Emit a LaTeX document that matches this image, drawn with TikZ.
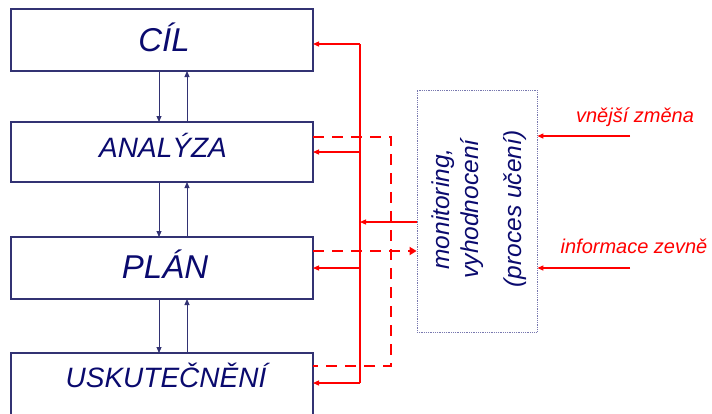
\documentclass[tikz,border=0pt]{standalone}
\usepackage{fontspec}
\setmainfont{Liberation Sans}
\usetikzlibrary{arrows.meta}
\definecolor{navy}{RGB}{10,10,110}
\definecolor{boxline}{RGB}{50,50,115}
\definecolor{dotline}{RGB}{120,120,175}
\begin{document}
\begin{tikzpicture}[x=1bp,y=-1bp,
  stagebox/.style={draw=boxline,line width=1.2bp,minimum width=302bp,minimum height=62bp,inner sep=0,outer sep=0},
  stagetext/.style={text=navy,anchor=base,inner sep=0},
  montext/.style={text=navy,rotate=90,inner sep=0,font=\itshape\fontsize{24.5bp}{28bp}\selectfont},
  redtext/.style={text=red,anchor=base,inner sep=0,font=\itshape\fontsize{20bp}{24bp}\selectfont},
  downflow/.style={draw=boxline,line width=0.9bp,-{Triangle[length=6bp,width=5bp]}},
  feedback/.style={draw=red,line width=1.2bp,-{Triangle[length=6bp,width=5bp]}},
  report/.style={draw=red,line width=2.5bp,dash pattern=on 11bp off 8bp}]
\useasboundingbox (0,0) rectangle (712,413);
\clip (0,0) rectangle (712,413);

% stage boxes
\node[stagebox] (cil) at (162,40) {};
\node[stagebox,minimum height=60bp] (analyza) at (162,152) {};
\node[stagebox] (plan) at (162,268) {};
\node[stagebox,minimum height=64bp] (usk) at (162,385) {};

\node[stagetext,font=\itshape\fontsize{33bp}{36bp}\selectfont] (cilt) at (164,51) {CÍL};
\node[stagetext,font=\itshape\fontsize{28bp}{32bp}\selectfont] (analyzat) at (163,157) {ANALÝZA};
\node[stagetext,font=\itshape\fontsize{33bp}{36bp}\selectfont] (plant) at (165,278) {PLÁN};
\node[stagetext,font=\itshape\fontsize{28bp}{32bp}\selectfont] (uskt) at (166,387) {USKUTEČNĚNÍ};

% vertical flow between stages
\coordinate (dn) at (159,0);
\coordinate (up) at (187,0);
\draw[downflow] (cil.south -| dn) -- (analyza.north -| dn);
\draw[downflow] (analyza.north -| up) -- (cil.south -| up);
\draw[downflow] (analyza.south -| dn) -- (plan.north -| dn);
\draw[downflow] (plan.north -| up) -- (analyza.south -| up);
\draw[downflow] (plan.south -| dn) -- (usk.north -| dn);
\draw[downflow] (usk.north -| up) -- (plan.south -| up);

% monitoring box
\node[draw=dotline,densely dotted,line width=0.8bp,minimum width=120bp,minimum height=242bp,inner sep=0] (mon) at (477,211) {};
\node[montext] (m1) at (443,209) {monitoring,};
\node[montext] (m2) at (472,209) {vyhodnocení};
\node[montext] (m3) at (515,209) {(proces učení)};

% feedback bus
\coordinate (fbtop) at (360,44);
\coordinate (fbA) at (360,152);
\coordinate (fbM) at (360,222);
\coordinate (fbP) at (360,268);
\coordinate (fbU) at (360,383);
\draw[red,line width=1.2bp] (fbtop) -- (fbU);
\draw[feedback] (fbtop) -- (cil.east |- fbtop);
\draw[feedback] (fbA) -- (analyza.east |- fbA);
\draw[feedback] (fbP) -- (plan.east |- fbP);
\draw[feedback] (fbU) -- (usk.east |- fbU);
\draw[feedback] (mon.west |- fbM) -- (fbM);

% reporting (dashed)
\coordinate (rA) at (391,137);
\coordinate (rP) at (391,251);
\coordinate (rU) at (391,366);
\draw[report] (analyza.east |- rA) -- (rA) -- (rU) -- (usk.east |- rU);
\draw[report,-{Triangle[length=7bp,width=8bp]}] (plan.east |- rP) -- (mon.west |- rP);

% external inputs
\coordinate (ve) at (630,136);
\coordinate (ie) at (630,268);
\draw[feedback] (ve) -- (mon.east |- ve);
\draw[feedback] (ie) -- (mon.east |- ie);
\node[redtext] (vet) at (635,122) {vnější změna};
\node[redtext] (iet) at (634,253) {informace zevně};
\end{tikzpicture}
\end{document}
